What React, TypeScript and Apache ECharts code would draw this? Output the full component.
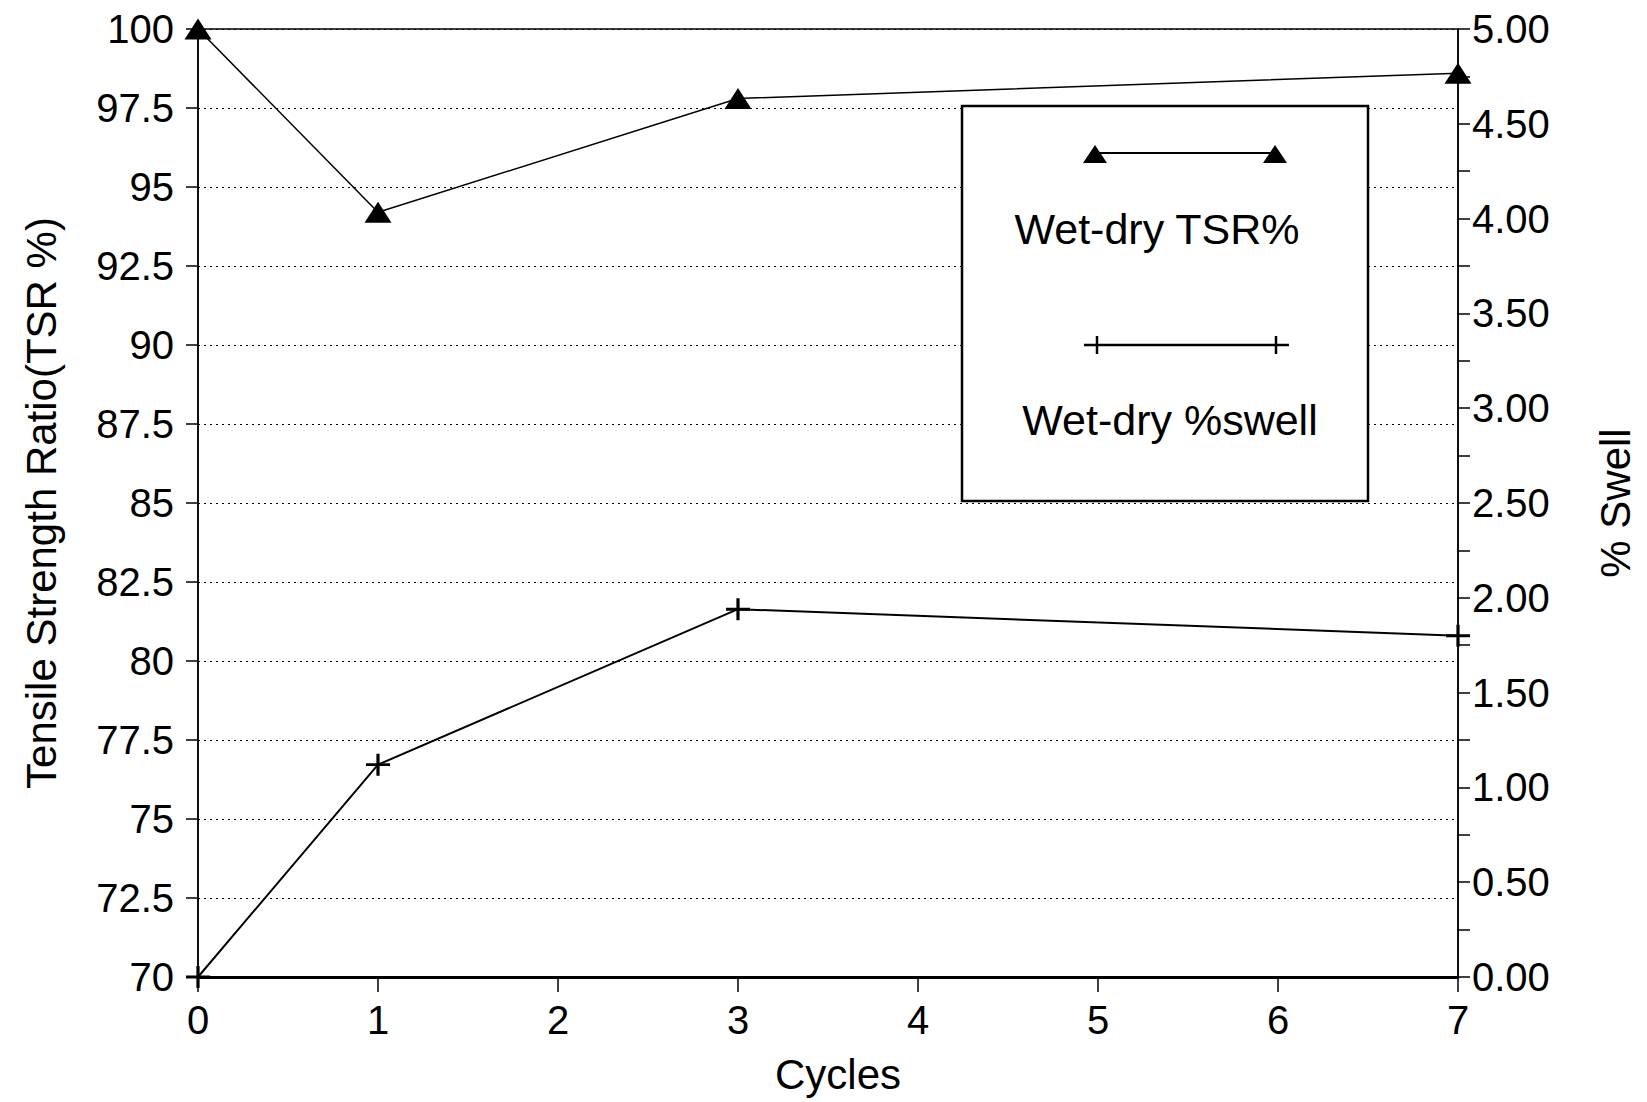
import React, { useEffect, useRef } from "react";
import * as echarts from "echarts";

const cycles = [0, 1, 3, 7];
const tsrValues = [100, 94.2, 97.8, 98.6];
const swellValues = [0, 1.12, 1.94, 1.8];
const seriesNames = ["Wet-dry TSR%", "Wet-dry %swell"];
const xTitle = "Cycles";
const leftTitle = "Tensile Strength Ratio(TSR %)";
const rightTitle = "% Swell";

const FONT = "'Liberation Sans', Arial, Helvetica, sans-serif";
const PLUS = "path://M13,0H17V13H30V17H17V30H13V17H0V13H13Z";

export default function App() {
  const ref = useRef<HTMLDivElement>(null);
  useEffect(() => {
    if (!ref.current) return;
    const chart = echarts.init(ref.current, undefined, { renderer: "svg" });
    const tsrData = cycles.map((c, i) => [c, tsrValues[i]]);
    const swellData = cycles.map((c, i) => [c, swellValues[i]]);
    const option: any = {
      animation: false,
      backgroundColor: "#fff",
      textStyle: { fontFamily: FONT, color: "#000" },
      grid: {
        left: 198,
        right: 189,
        top: 29,
        bottom: 125,
        show: true,
        borderColor: "#000",
        borderWidth: 1.5,
      },
      xAxis: {
        type: "value",
        min: 0,
        max: 7,
        interval: 1,
        name: xTitle,
        nameLocation: "middle",
        nameGap: 76,
        nameTextStyle: { fontSize: 42, color: "#000", fontFamily: FONT, padding: [0, 0, 0, 20] },
        axisLine: { show: true, lineStyle: { color: "#000", width: 3 } },
        axisTick: { show: true, inside: false, length: 15, lineStyle: { color: "#000", width: 1.5 } },
        axisLabel: { fontSize: 40, color: "#000", margin: 23, fontFamily: FONT },
        splitLine: { show: false },
      },
      yAxis: [
        {
          type: "value",
          position: "left",
          min: 70,
          max: 100,
          interval: 2.5,
          name: leftTitle,
          nameLocation: "middle",
          nameGap: 136,
          nameTextStyle: { fontSize: 42, color: "#000", fontFamily: FONT },
          axisLine: { show: true, lineStyle: { color: "#000", width: 1.5 } },
          axisTick: { show: true, inside: false, length: 12, lineStyle: { color: "#000", width: 1.5 } },
          axisLabel: { fontSize: 40, color: "#000", margin: 24, fontFamily: FONT },
          splitLine: { show: true, lineStyle: { color: "#000", width: 1, type: [2, 4] } },
        },
        {
          type: "value",
          position: "right",
          min: 0,
          max: 5,
          interval: 0.5,
          name: rightTitle,
          nameLocation: "middle",
          nameGap: 136,
          nameTextStyle: { fontSize: 42, color: "#000", fontFamily: FONT },
          axisLine: { show: true, lineStyle: { color: "#000", width: 1.5 } },
          axisTick: { show: true, inside: false, length: 12, lineStyle: { color: "#000", width: 1.5 } },
          minorTick: { show: true, splitNumber: 2, length: 12, lineStyle: { color: "#000", width: 1.5 } },
          axisLabel: {
            fontSize: 40,
            color: "#000",
            margin: 14,
            fontFamily: FONT,
            formatter: (v: number) => v.toFixed(2),
          },
          splitLine: { show: false },
        },
      ],
      series: [
        {
          name: seriesNames[0],
          type: "line",
          yAxisIndex: 0,
          data: tsrData,
          symbol: "triangle",
          symbolSize: [27, 21],
          showAllSymbol: true,
          itemStyle: { color: "#000" },
          lineStyle: { color: "#000", width: 1.5 },
          z: 5,
        },
        {
          name: seriesNames[1],
          type: "line",
          yAxisIndex: 1,
          data: swellData,
          symbol: PLUS,
          symbolSize: [24, 22],
          showAllSymbol: true,
          itemStyle: { color: "#000" },
          lineStyle: { color: "#000", width: 2 },
          z: 5,
        },
      ],
      graphic: [
        {
          type: "group",
          z: 100,
          children: [
            {
              type: "rect",
              shape: { x: 962, y: 106, width: 406, height: 395 },
              style: { fill: "#fff", stroke: "#000", lineWidth: 2.5 },
              z: 100,
            },
            {
              type: "line",
              shape: { x1: 1095, y1: 153, x2: 1275, y2: 153 },
              style: { stroke: "#000", lineWidth: 2 },
              z: 101,
            },
            {
              type: "polygon",
              shape: { points: [[1095, 145], [1083, 163], [1107, 163]] },
              style: { fill: "#000" },
              z: 102,
            },
            {
              type: "polygon",
              shape: { points: [[1275, 145], [1263, 163], [1287, 163]] },
              style: { fill: "#000" },
              z: 102,
            },
            {
              type: "text",
              style: {
                text: seriesNames[0],
                x: 1157,
                y: 229,
                align: "center",
                verticalAlign: "middle",
                fontSize: 43,
                fontFamily: FONT,
                fill: "#000",
              },
              z: 102,
            },
            {
              type: "line",
              shape: { x1: 1084, y1: 345, x2: 1289, y2: 345 },
              style: { stroke: "#000", lineWidth: 2.5 },
              z: 101,
            },
            {
              type: "line",
              shape: { x1: 1097, y1: 336, x2: 1097, y2: 354 },
              style: { stroke: "#000", lineWidth: 2.5 },
              z: 102,
            },
            {
              type: "line",
              shape: { x1: 1276, y1: 336, x2: 1276, y2: 354 },
              style: { stroke: "#000", lineWidth: 2.5 },
              z: 102,
            },
            {
              type: "text",
              style: {
                text: seriesNames[1],
                x: 1170,
                y: 420,
                align: "center",
                verticalAlign: "middle",
                fontSize: 43,
                fontFamily: FONT,
                fill: "#000",
              },
              z: 102,
            },
          ],
        },
      ],
    };
    chart.setOption(option);
    return () => chart.dispose();
  }, []);
  return (
    <div
      ref={ref}
      style={{ position: "fixed", left: 0, top: 0, width: 1647, height: 1102, background: "#fff" }}
    />
  );
}
